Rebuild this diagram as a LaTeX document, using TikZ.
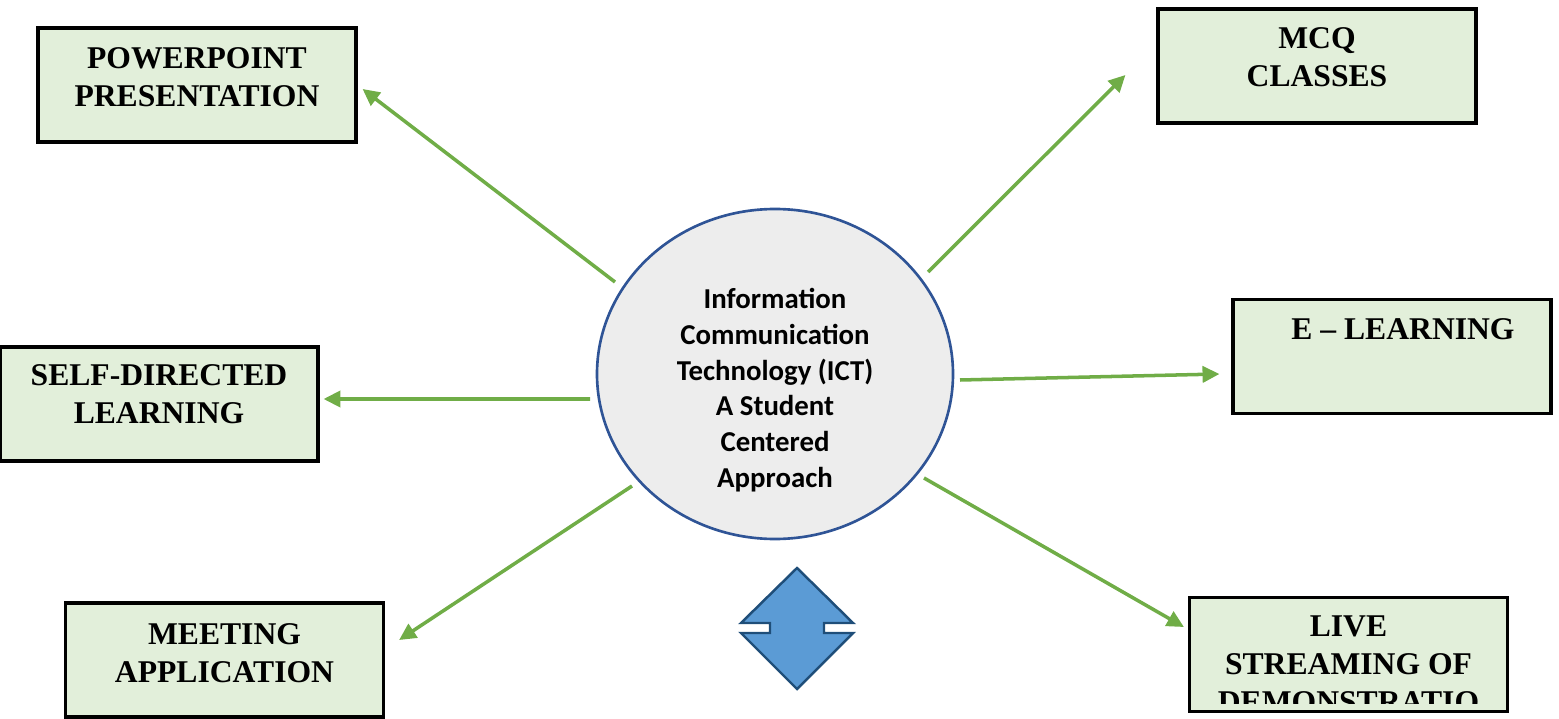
\documentclass[tikz,border=0pt]{standalone}
\usepackage{fontspec}
\setmainfont{Liberation Serif}
\newfontfamily\ictfont{Carlito}
\usepackage{tikz}
\usetikzlibrary{shapes,arrows.meta,positioning}

\begin{document}
\begin{tikzpicture}
  % Colors
  \definecolor{leafcolor}{HTML}{E2EFDA}
  \definecolor{spokecolor}{HTML}{70AD47}
  \definecolor{hubcolor}{HTML}{EDEDED}
  \definecolor{hubline}{HTML}{2F5496}
  \definecolor{shapecolor}{HTML}{5B9BD5}
  \definecolor{shapeline}{HTML}{1F4E79}

  % Styles
  \tikzstyle{leaf}=[draw=black,line width=0.9pt,fill=leafcolor,minimum width=3.18cm,minimum height=1.14cm,inner sep=0pt]
  \tikzstyle{leaf text}=[align=center,inner sep=0pt,font=\fontsize{9}{10.8}\selectfont\bfseries]
  \tikzstyle{hub}=[ellipse,draw=hubline,line width=0.75pt,fill=hubcolor,minimum width=3.56cm,minimum height=3.30cm,inner sep=0pt]
  \tikzstyle{hub text}=[align=center,inner sep=0pt,font=\ictfont\fontsize{8.2}{10.15}\selectfont\bfseries]
  \tikzstyle{spoke}=[draw=spokecolor,line width=1pt,-{Triangle[length=4.8pt,width=4.6pt]}]
  \tikzstyle{updown}=[draw=shapeline,line width=0.7pt,fill=shapecolor,line join=miter]

  % Frame
  \useasboundingbox (0,0) rectangle (15.59,-7.19);

  % The hub
  \node[hub] (ict) at (7.75,-3.74) {};
  \node[hub text] (ict-text) at ([yshift=-0.16cm]ict.center)
    {Information\\Communication\\Technology (ICT)\\A Student\\Centered\\Approach};

  % The boxes
  \node[leaf] (ppt) at (1.97,-0.85) {};
  \node[leaf text,below=2mm of ppt.north] (ppt-text) {POWERPOINT\\PRESENTATION};

  \node[leaf] (mcq) at (13.17,-0.66) {};
  \node[leaf text,below=1.9mm of mcq.north] (mcq-text) {MCQ\\CLASSES};

  \node[leaf] (self) at (1.59,-4.04) {};
  \node[leaf text,below=1.85mm of self.north] (self-text) {SELF-DIRECTED\\LEARNING};

  \node[leaf] (elearn) at (13.92,-3.565) {};
  \node[leaf text,below=2mm of elearn.north,xshift=1.1mm] (elearn-text) {E -- LEARNING};

  \node[leaf] (meet) at (2.245,-6.60) {};
  \node[leaf text,below=2.1mm of meet.north] (meet-text) {MEETING\\APPLICATION};

  \node[leaf] (live) at (13.485,-6.545) {};
  \begin{scope}
    \clip (live.north west) rectangle ([yshift=1mm]live.south east);
    \node[leaf text,below=1.95mm of live.north] (live-text) {LIVE\\STREAMING OF\\DEMONSTRATIO};
  \end{scope}

  % The spokes
  \draw[spoke] ([shift={(-1.60,0.92)}]ict.center) -- ([shift={(0.05,-0.04)}]ppt.east);
  \draw[spoke] ([shift={(1.53,1.02)}]ict.center) -- ([shift={(-0.31,-0.09)}]mcq.west);
  \draw[spoke] ([shift={(-1.85,-0.25)}]ict.center) -- ([shift={(0.04,0.05)}]self.east);
  \draw[spoke] ([shift={(1.85,-0.06)}]ict.center) -- ([shift={(-0.12,-0.175)}]elearn.west);
  \draw[spoke] ([shift={(-1.43,-1.12)}]ict.center) -- ([shift={(0.14,0.20)}]meet.east);
  \draw[spoke] ([shift={(1.49,-1.04)}]ict.center) -- ([shift={(-0.04,0.275)}]live.west);

  % Up-down arrow below the hub
  \draw[updown] (7.97,-5.68) -- ++(0.56,-0.55) -- ++(-0.29,0) -- ++(0,-0.10) -- ++(0.29,0)
    -- (7.97,-6.89) -- ++(-0.56,0.56) -- ++(0.29,0) -- ++(0,0.10) -- ++(-0.29,0) -- cycle;
\end{tikzpicture}
\end{document}
